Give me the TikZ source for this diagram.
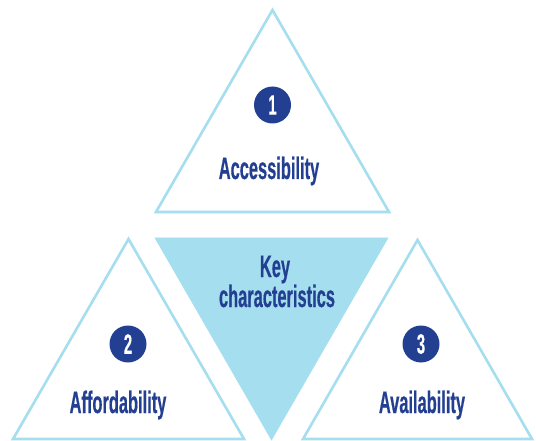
\documentclass[tikz,border=0pt]{standalone}
\usepackage{fontspec}
\newfontfamily\condfont[FakeStretch=0.53,FakeBold=0.4]{Liberation Sans Bold}
\definecolor{lightblue}{HTML}{A5DEEE}
\definecolor{navy}{HTML}{233F92}
\begin{document}
\begin{tikzpicture}[x=1pt,y=-1pt,
  outline/.style={draw=lightblue,line width=2.6pt,line join=miter,fill=white},
  centretri/.style={fill=lightblue,draw=lightblue,line width=0.5pt},
  numc/.style={circle,fill=navy,text=white,minimum size=37pt,inner sep=0pt,font=\condfont\fontsize{28}{28}\selectfont},
  label/.style={text=navy,anchor=base,inner sep=0pt,font=\condfont\fontsize{31}{30}\selectfont}]
\useasboundingbox (0,0) rectangle (536,441);
% top triangle
\coordinate (ta) at (272.5,10);
\coordinate (tl) at (156,212);
\coordinate (tr) at (389,212);
\draw[outline] (ta) -- (tr) -- (tl) -- cycle;
% left triangle
\coordinate (la) at (128.5,239);
\coordinate (ll) at (13,439);
\coordinate (lr) at (244,439);
\draw[outline] (la) -- (lr) -- (ll) -- cycle;
% right triangle
\coordinate (ra) at (417.5,240);
\coordinate (rl) at (303,439);
\coordinate (rr) at (532,439);
\draw[outline] (ra) -- (rr) -- (rl) -- cycle;
% centre inverted triangle
\coordinate (cl) at (155,238);
\coordinate (cr) at (388,238);
\coordinate (cb) at (271.5,440);
\draw[centretri] (cl) -- (cr) -- (cb) -- cycle;
% numbers
\node[numc] (n1) at (272.5,105) {1};
\node[numc] (n2) at (128,344) {2};
\node[numc] (n3) at (421,344) {3};
% labels
\node[label] (acc) at (269,179) {Accessibility};
\node[label] (aff) at (118,413) {Affordability};
\node[label] (ava) at (422,413) {Availability};
\node[label] (key) at (275,277) {Key};
\node[label] (chr) at (277,307) {characteristics};
\end{tikzpicture}
\end{document}
